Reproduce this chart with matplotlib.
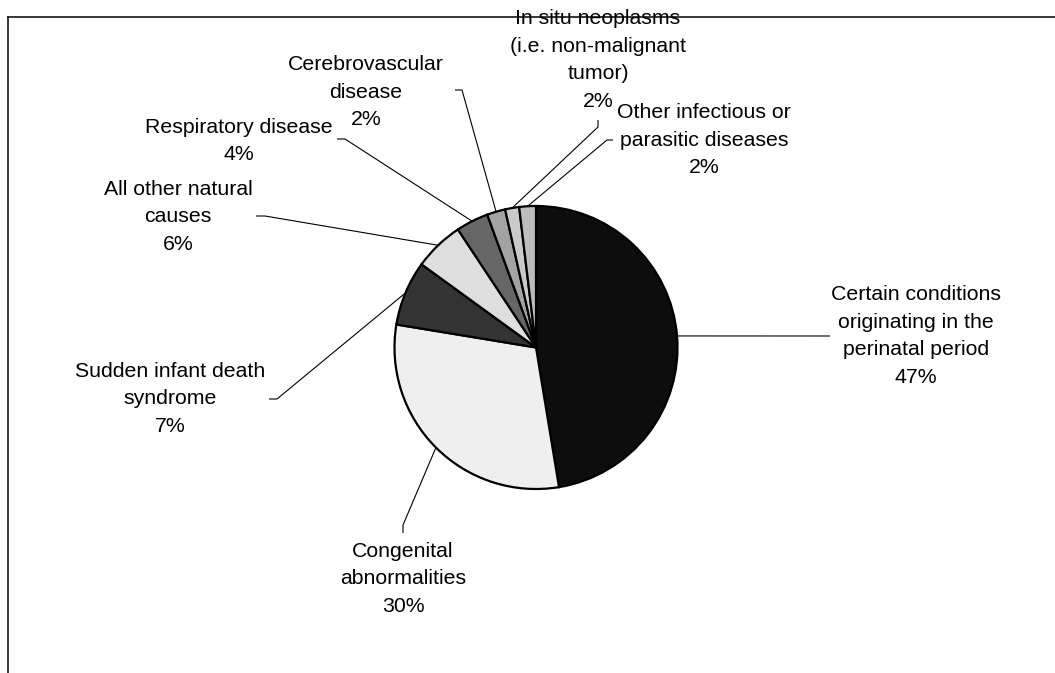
import matplotlib
matplotlib.use("Agg")
import matplotlib.pyplot as plt
import numpy as np
from matplotlib.lines import Line2D

# ---- data ----
categories = [
    "Certain conditions\noriginating in the\nperinatal period",
    "Congenital\nabnormalities",
    "Sudden infant death\nsyndrome",
    "All other natural\ncauses",
    "Respiratory disease",
    "Cerebrovascular\ndisease",
    "In situ neoplasms\n(i.e. non-malignant\ntumor)",
    "Other infectious or\nparasitic diseases",
]
shares = [47.4, 30.2, 7.4, 5.7, 3.7, 2.1, 1.6, 1.9]
colors = ["#0d0d0d", "#efefef", "#333333", "#dedede",
          "#666666", "#a3a3a3", "#cacaca", "#bdbdbd"]

# ---- layout (pixel coordinates, y downward) ----
W, H = 1055, 673
CX, CY, R = 536, 347.5, 141.5
label_pos = [(916, 336), (403, 579), (170, 399), (178, 217),
             (239, 141), (366, 92), (598, 60), (704, 140)]
leader_pts = [
    [(830, 336)],
    [(403, 525), (403, 533)],
    [(277, 399), (269, 399)],
    [(265, 216), (256, 216)],
    [(345, 139), (337, 139)],
    [(462, 90), (455, 90)],
    [(598, 127), (598, 120)],
    [(607, 140), (613, 140)],
]

def P(x, y):
    return x, H - y

plt.rcParams['font.family'] = ['Liberation Sans', 'DejaVu Sans']

fig = plt.figure(figsize=(W / 100, H / 100), dpi=100)
ax = fig.add_axes([0, 0, 1, 1])
wedges, _ = ax.pie(shares, colors=colors, startangle=90, counterclock=False,
                   center=P(CX, CY), radius=R,
                   wedgeprops=dict(edgecolor="black", linewidth=1.6))
ax.set_xlim(0, W)
ax.set_ylim(0, H)
ax.set_aspect("auto")
ax.axis("off")

cx, cy = P(CX, CY)
for w, cat, v, (tx, ty), pts in zip(wedges, categories, shares, label_pos, leader_pts):
    mid = np.deg2rad((w.theta1 + w.theta2) / 2)
    ax0 = cx + R * np.cos(mid)
    ay0 = cy + R * np.sin(mid)
    xs = [ax0] + [P(*p)[0] for p in pts]
    ys = [ay0] + [P(*p)[1] for p in pts]
    ax.plot(xs, ys, color="black", lw=0.8, solid_capstyle="butt", zorder=3)
    ax.text(*P(tx, ty), f"{cat}\n{round(v)}%", ha="center", va="center",
            fontsize=15.3, linespacing=1.56, color="black", zorder=4)

# chart-area frame (left and top edges visible)
fig.add_artist(Line2D([7.5 / W, 7.5 / W], [0, 1 - 17 / H],
                      transform=fig.transFigure, color="black", lw=1.1))
fig.add_artist(Line2D([7.5 / W, 1], [1 - 17 / H, 1 - 17 / H],
                      transform=fig.transFigure, color="black", lw=1.1))

fig.savefig("out.png", dpi=100)
